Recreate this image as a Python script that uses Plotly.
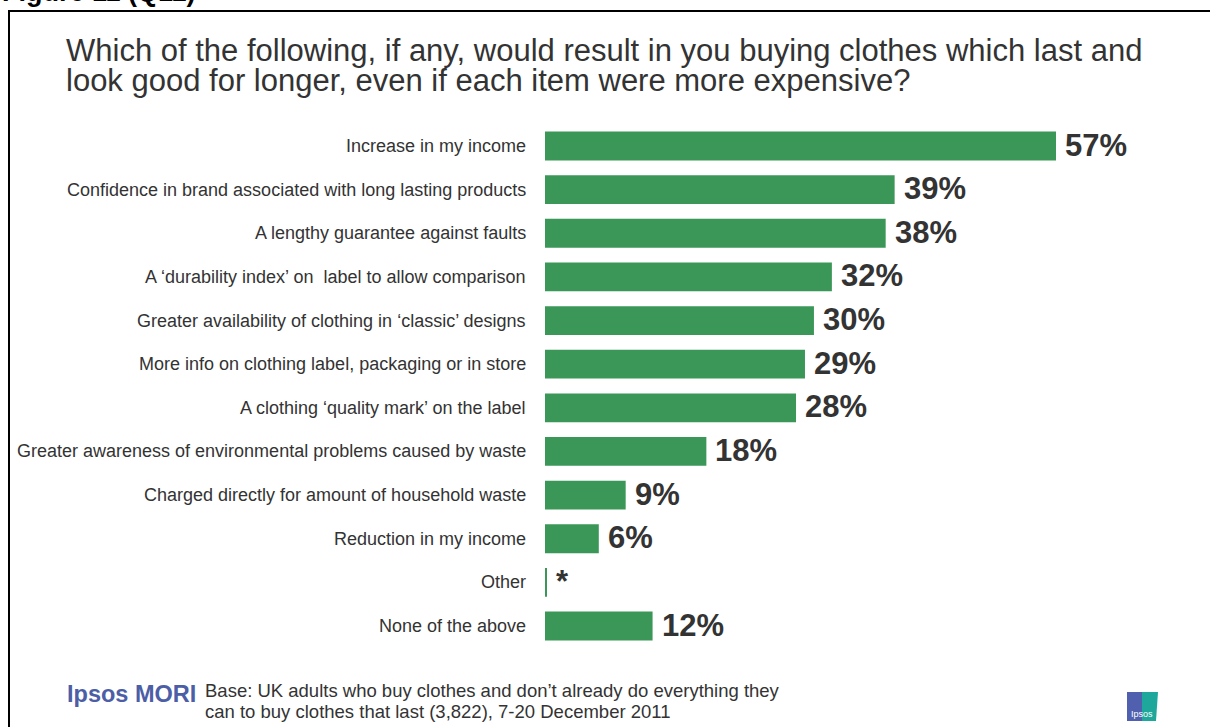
import plotly.graph_objects as go

W, H = 1210, 727

categories = [
    "Increase in my income",
    "Confidence in brand associated with long lasting products",
    "A lengthy guarantee against faults",
    "A \u2018durability index\u2019 on  label to allow comparison",
    "Greater availability of clothing in \u2018classic\u2019 designs",
    "More info on clothing label, packaging or in store",
    "A clothing \u2018quality mark\u2019 on the label",
    "Greater awareness of environmental problems caused by waste",
    "Charged directly for amount of household waste",
    "Reduction in my income",
    "Other",
    "None of the above",
]
values = [57, 39, 38, 32, 30, 29, 28, 18, 9, 6, 0.2, 12]
value_labels = ["57%", "39%", "38%", "32%", "30%", "29%", "28%", "18%", "9%", "6%", "*", "12%"]

title_lines = [
    "Which of the following, if any, would result in you buying clothes which last and",
    "look good for longer, even if each item were more expensive?",
]
base_lines = [
    "Base: UK adults who buy clothes and don\u2019t already do everything they",
    "can to buy clothes that last (3,822), 7-20 December 2011",
]

GREEN = "#3b9757"
TEXT = "#333333"
FONT = "Liberation Sans, Arial"


def px(x):
    return x / W


def py(y):
    return 1 - y / H


# plot area in pixels
x0, x1 = 545, 1200
scale = (1056 - 545) / 57.0
xmax = (x1 - x0) / scale
yc0, yc1 = 146, 626
step = (yc1 - yc0) / (len(categories) - 1)
ytop, ybot = yc0 - step / 2, yc1 + step / 2

fig = go.Figure(
    go.Bar(
        x=values,
        y=categories,
        orientation="h",
        marker=dict(color=GREEN, line=dict(width=0)),
        width=0.66,
        hoverinfo="skip",
    )
)

annotations = []
for cat, v, lab in zip(categories, values, value_labels):
    annotations.append(dict(
        x=v, y=cat, xref="x", yref="y", text=f"<b>{lab}</b>", showarrow=False,
        xanchor="left", yanchor="middle", xshift=7, yshift=1,
        font=dict(family=FONT, size=31, color=TEXT),
    ))
    annotations.append(dict(
        x=px(528), y=cat, xref="paper", yref="y", text=cat, showarrow=False,
        xanchor="right", yanchor="middle",
        font=dict(family=FONT, size=18, color=TEXT),
    ))

# title
for i, line in enumerate(title_lines):
    annotations.append(dict(
        x=px(64), y=py(51 + 29 * i), xref="paper", yref="paper", text=line,
        showarrow=False, xanchor="left", yanchor="middle",
        font=dict(family=FONT, size=31, color=TEXT),
    ))

# figure caption at the very top
annotations.append(dict(
    x=0, y=py(9), xref="paper", yref="paper", text="<b>Figure 11 (Q11)</b>",
    showarrow=False, xanchor="left", yanchor="bottom",
    font=dict(family=FONT, size=27, color="#000000"),
))

# footer
annotations.append(dict(
    x=px(65), y=py(694), xref="paper", yref="paper", text="<b>Ipsos MORI</b>",
    showarrow=False, xanchor="left", yanchor="middle",
    font=dict(family=FONT, size=23.5, color="#4c5ea6"),
))
for i, line in enumerate(base_lines):
    annotations.append(dict(
        x=px(203), y=py(690 + 21 * i), xref="paper", yref="paper", text=line,
        showarrow=False, xanchor="left", yanchor="middle",
        font=dict(family=FONT, size=18.5, color=TEXT),
    ))
# logo text
annotations.append(dict(
    x=px(1142), y=py(714), xref="paper", yref="paper", text="Ipsos",
    showarrow=False, xanchor="center", yanchor="middle",
    font=dict(family=FONT, size=9, color="white"),
))

shapes = [
    # frame around the chart
    dict(type="rect", xref="paper", yref="paper", x0=px(9), x1=px(1240),
         y0=py(11), y1=py(760), line=dict(color="black", width=2), fillcolor="rgba(0,0,0,0)"),
    # logo block
    dict(type="rect", xref="paper", yref="paper", x0=px(1127), x1=px(1142),
         y0=py(692), y1=py(721), line=dict(width=0), fillcolor="#5060ae"),
    dict(type="path", xref="paper", yref="paper",
         path=f"M {px(1142)},{py(692)} L {px(1158)},{py(692)} L {px(1156)},{py(721)} L {px(1142)},{py(721)} Z",
         line=dict(width=0), fillcolor="#1ea89c"),
]

fig.update_layout(
    width=W, height=H,
    margin=dict(l=0, r=0, t=0, b=0),
    paper_bgcolor="white", plot_bgcolor="white",
    showlegend=False,
    bargap=0.34,
    xaxis=dict(domain=[px(x0), px(x1)], range=[0, xmax], visible=False, fixedrange=True),
    yaxis=dict(domain=[py(ybot), py(ytop)], range=[len(categories) - 0.5, -0.5],
               type="category", visible=False, fixedrange=True),
    annotations=annotations,
    shapes=shapes,
)

fig.write_html("out.html")
